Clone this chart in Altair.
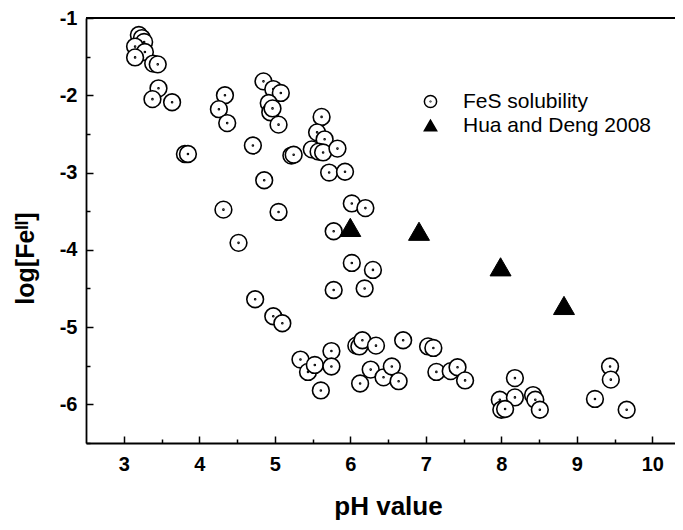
import altair as alt
import pandas as pd

# FeS solubility points (pH, log[Fe(II)])
fes_ph = [3.20, 3.24, 3.27, 3.15, 3.28, 3.15, 3.39, 3.45, 3.46, 3.38, 3.64, 3.81, 3.85,
          4.34, 4.26, 4.37, 4.71, 4.85, 4.98, 5.08, 4.92, 4.94, 4.97, 5.05, 5.22, 5.25,
          4.86, 4.32, 5.05, 4.52,
          5.62, 5.56, 5.66, 5.49, 5.58, 5.64, 5.83, 5.72, 5.93, 6.02, 6.20, 5.78, 6.02,
          6.30, 5.78, 6.19,
          4.74, 4.98, 5.10,
          5.34, 5.44, 5.53, 5.75, 5.75, 5.61, 6.08, 6.12, 6.16, 6.34, 6.13, 6.27, 6.44,
          6.55, 6.64, 6.70, 7.03, 7.10, 7.14, 7.33, 7.42, 7.52, 8.18, 7.98, 8.18, 8.00,
          8.05, 8.42, 8.45, 8.51, 9.44, 9.45, 9.24, 9.66]
fes_log = [-1.22, -1.26, -1.31, -1.37, -1.44, -1.51, -1.59, -1.60, -1.91, -2.05, -2.09, -2.76, -2.76,
           -2.00, -2.18, -2.36, -2.65, -1.82, -1.92, -1.97, -2.10, -2.22, -2.17, -2.38, -2.78, -2.77,
           -3.10, -3.48, -3.51, -3.91,
           -2.28, -2.48, -2.57, -2.70, -2.73, -2.74, -2.69, -3.00, -2.99, -3.40, -3.46, -3.76, -4.17,
           -4.26, -4.52, -4.50,
           -4.64, -4.86, -4.95,
           -5.42, -5.58, -5.49, -5.31, -5.51, -5.82, -5.24, -5.25, -5.17, -5.24, -5.73, -5.55, -5.65,
           -5.51, -5.70, -5.17, -5.25, -5.27, -5.58, -5.57, -5.52, -5.69, -5.66, -5.94, -5.91, -6.07,
           -6.06, -5.88, -5.94, -6.07, -5.51, -5.68, -5.93, -6.07]

# Hua and Deng 2008
hua_ph = [6.00, 6.91, 7.99, 8.83]
hua_log = [-3.71, -3.76, -4.22, -4.72]

series_names = ["FeS solubility", "Hua and Deng 2008"]
x_ticks = [3, 3.5, 4, 4.5, 5, 5.5, 6, 6.5, 7, 7.5, 8, 8.5, 9, 9.5, 10]
y_ticks = [-6.5, -6, -5.5, -5, -4.5, -4, -3.5, -3, -2.5, -2, -1.5, -1]
x_labels = [3, 4, 5, 6, 7, 8, 9, 10]
y_labels = [-6, -5, -4, -3, -2, -1]

df = pd.DataFrame({
    "ph": fes_ph + hua_ph,
    "logfe": fes_log + hua_log,
    "series": [series_names[0]] * len(fes_ph) + [series_names[1]] * len(hua_ph),
})

W, H = 589, 425
FONT = "Liberation Sans"

circle_dot = ("M -1 0 A 1 1 0 1 0 1 0 A 1 1 0 1 0 -1 0 Z "
              "M -0.06 0 A 0.06 0.06 0 1 0 0.06 0 A 0.06 0.06 0 1 0 -0.06 0 Z")

xscale = alt.Scale(domain=[2.5, 10.3], nice=False, zero=False)
yscale = alt.Scale(domain=[-6.5, -1], nice=False, zero=False)

legend = alt.Legend(title=None, orient="none", legendX=334, legendY=73,
                    padding=0, symbolSize=150, symbolStrokeWidth=1.5,
                    labelFont=FONT, labelFontSize=21, labelColor="black",
                    labelOffset=22, rowPadding=2, labelLimit=400)

shape_enc = alt.Shape("series:N",
                      scale=alt.Scale(domain=series_names, range=[circle_dot, "triangle-up"]),
                      legend=legend)
fill_enc = alt.Fill("series:N",
                    scale=alt.Scale(domain=series_names, range=["white", "black"]),
                    legend=legend)
stroke_enc = alt.Stroke("series:N",
                        scale=alt.Scale(domain=series_names, range=["black", "black"]),
                        legend=legend)

tick_size = {"condition": {"test": "datum.value % 1 == 0", "value": 7}, "value": 4}

circles = alt.Chart(df).transform_filter(
    alt.datum.series == series_names[0]
).mark_point(filled=True, size=280, strokeWidth=1.6, opacity=1).encode(
    x=alt.X("ph:Q", scale=xscale,
            axis=alt.Axis(orient="bottom", values=x_labels, ticks=False, grid=False,
                          domainColor="black", domainWidth=1.8, labelFont=FONT,
                          labelFontSize=20, labelFontWeight="bold", labelColor="black",
                          labelPadding=11, labelExpr="'' + datum.value",
                          title="pH value", titleFont=FONT,
                          titleFontSize=26, titleFontWeight="bold", titleColor="black",
                          titleX=302, titleY=71, titleAlign="center",
                          titleBaseline="alphabetic")),
    y=alt.Y("logfe:Q", scale=yscale,
            axis=alt.Axis(orient="left", values=y_labels, ticks=False, grid=False,
                          domainColor="black", domainWidth=1.8, labelFont=FONT,
                          labelFontSize=20, labelFontWeight="bold", labelColor="black",
                          labelPadding=9, labelExpr="'' + datum.value",
                          title="log[Feᴵᴵ]", titleFont=FONT,
                          titleFontSize=25, titleFontWeight="bold", titleColor="black",
                          titleAngle=270, titleX=-53, titleY=240, titleAlign="center",
                          titleBaseline="alphabetic")),
    shape=shape_enc,
    fill=fill_enc,
    stroke=stroke_enc,
)

triangles = alt.Chart(df).transform_filter(
    alt.datum.series == series_names[1]
).mark_point(filled=True, size=440, strokeWidth=1, opacity=1).encode(
    x=alt.X("ph:Q", scale=xscale,
            axis=alt.Axis(orient="top", offset=-H, values=x_ticks, domain=False,
                          labels=False, title=None, grid=False, tickColor="black",
                          tickWidth=1.5, tickSize=tick_size)),
    y=alt.Y("logfe:Q", scale=yscale,
            axis=alt.Axis(orient="right", offset=-W, values=y_ticks, domain=False,
                          labels=False, title=None, grid=False, tickColor="black",
                          tickWidth=1.5, tickSize=tick_size)),
    shape=shape_enc,
    fill=fill_enc,
    stroke=stroke_enc,
)

top_line = alt.Chart(df).mark_rule(color="black", strokeWidth=1.8).encode(
    y=alt.YDatum(-1, axis=None)
).transform_filter(alt.datum.series == series_names[1]).transform_aggregate(n="count()")

chart = alt.layer(top_line, circles, triangles).resolve_axis(
    x="independent", y="independent"
).properties(
    width=W, height=H,
    autosize=alt.AutoSizeParams(type="none"),
    padding={"left": 78, "top": 10, "right": 0, "bottom": 78},
).configure_view(stroke=None).configure(background="white")

chart.save("out.html", embed_options={"renderer": "svg", "actions": False})
